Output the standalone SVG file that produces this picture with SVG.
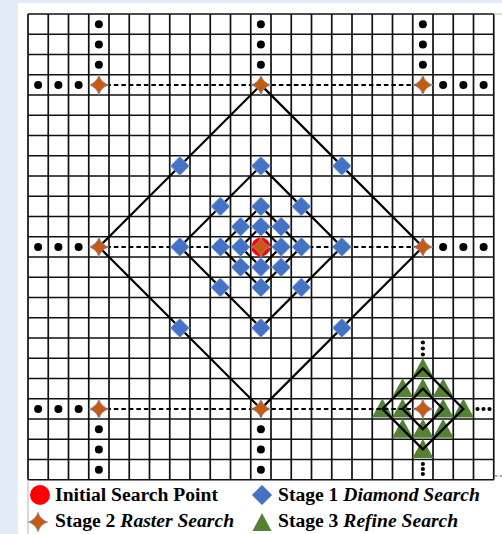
<svg xmlns="http://www.w3.org/2000/svg" xmlns:xlink="http://www.w3.org/1999/xlink" width="502" height="534" viewBox="0 0 502 534">
<style>
.grid{stroke:#111;stroke-width:1.7;fill:none}
.dash{stroke:#000;stroke-width:2;stroke-dasharray:4.5,3;fill:none}
.solid{stroke:#000;stroke-width:2.2;fill:none;stroke-linejoin:miter}
.s1{fill:#4472c4;stroke:#8fa9da;stroke-width:0.8}
.s2{fill:#c55a11;stroke:#7f9fd6;stroke-width:0.7}
.s3{fill:#548235}
.init{fill:#ff0000}
.dot{fill:#000}
.lbl{font-family:"Liberation Serif","Times New Roman",serif;font-size:19.6px;font-weight:bold;fill:#000}
.it{font-style:italic}
</style>
<defs>
<polygon id="dia" points="0,-9.5 9.5,0 0,9.5 -9.5,0"/>
<path id="star" d="M0,-10 Q2.3,-2.3 10,0 Q2.3,2.3 0,10 Q-2.3,2.3 -10,0 Q-2.3,-2.3 0,-10Z"/>
<polygon id="tri" points="0,-10.5 10.5,8.5 -10.5,8.5"/>
<circle id="dot" r="4"/>
<circle id="sdot" r="2.1"/>
</defs>
<rect x="0" y="0" width="502" height="534" fill="#e3ebf6"/>
<rect x="18" y="3" width="484" height="531" fill="#ffffff"/>
<g id="grid">
<path class="grid" d="M28,14V479.75M48.25,14V479.75M68.5,14V479.75M88.75,14V479.75M109,14V479.75M129.25,14V479.75M149.5,14V479.75M169.75,14V479.75M190,14V479.75M210.25,14V479.75M230.5,14V479.75M250.75,14V479.75M271,14V479.75M291.25,14V479.75M311.5,14V479.75M331.75,14V479.75M352,14V479.75M372.25,14V479.75M392.5,14V479.75M412.75,14V479.75M433,14V479.75M453.25,14V479.75M473.5,14V479.75M493.75,14V479.75M28,14H493.75M28,34.25H493.75M28,54.5H493.75M28,74.75H493.75M28,95H493.75M28,115.25H493.75M28,135.5H493.75M28,155.75H493.75M28,176H493.75M28,196.25H493.75M28,216.5H493.75M28,236.75H493.75M28,257H493.75M28,277.25H493.75M28,297.5H493.75M28,317.75H493.75M28,338H493.75M28,358.25H493.75M28,378.5H493.75M28,398.75H493.75M28,419H493.75M28,439.25H493.75M28,459.5H493.75M28,479.75H493.75"/>
<path d="M493.75,14H502M28,479.75V534" stroke="#b5b5b5" stroke-width="1" fill="none"/>
<path d="M495,476H502" stroke="#555" stroke-width="1" stroke-dasharray="2.5,2" fill="none"/>
</g>
<g id="stage3">
<g id="t-19-17"><use xlink:href="#tri" class="s3" x="422.875" y="368.375"/></g>
<g id="t-18-18"><use xlink:href="#tri" class="s3" x="402.625" y="388.625"/></g>
<g id="t-19-18"><use xlink:href="#tri" class="s3" x="422.875" y="388.625"/></g>
<g id="t-20-18"><use xlink:href="#tri" class="s3" x="443.125" y="388.625"/></g>
<g id="t-17-19"><use xlink:href="#tri" class="s3" x="382.375" y="408.875"/></g>
<g id="t-18-19"><use xlink:href="#tri" class="s3" x="402.625" y="408.875"/></g>
<g id="t-20-19"><use xlink:href="#tri" class="s3" x="443.125" y="408.875"/></g>
<g id="t-21-19"><use xlink:href="#tri" class="s3" x="463.375" y="408.875"/></g>
<g id="t-18-20"><use xlink:href="#tri" class="s3" x="402.625" y="429.125"/></g>
<g id="t-19-20"><use xlink:href="#tri" class="s3" x="422.875" y="429.125"/></g>
<g id="t-20-20"><use xlink:href="#tri" class="s3" x="443.125" y="429.125"/></g>
<g id="t-19-21"><use xlink:href="#tri" class="s3" x="422.875" y="449.375"/></g>
</g>
<g id="connectors">
<path class="dash" d="M98.875,84.875H422.875M98.875,246.875H422.875M98.875,408.875H422.875"/>
<polygon class="solid" points="260.875,84.875 422.875,246.875 260.875,408.875 98.875,246.875"/>
<polygon class="solid" points="260.875,165.875 341.875,246.875 260.875,327.875 179.875,246.875"/>
<polygon class="solid" points="260.875,206.375 301.375,246.875 260.875,287.375 220.375,246.875"/>
<polygon class="solid" points="260.875,226.625 281.125,246.875 260.875,267.125 240.625,246.875"/>
<polygon class="solid" points="422.875,368.375 463.375,408.875 422.875,449.375 382.375,408.875"/>
<polygon class="solid" points="422.875,388.625 443.125,408.875 422.875,429.125 402.625,408.875"/>
</g>
<g id="stage1">
<g id="d-7-7"><use xlink:href="#dia" class="s1" x="179.875" y="165.875"/></g>
<g id="d-11-7"><use xlink:href="#dia" class="s1" x="260.875" y="165.875"/></g>
<g id="d-15-7"><use xlink:href="#dia" class="s1" x="341.875" y="165.875"/></g>
<g id="d-7-11"><use xlink:href="#dia" class="s1" x="179.875" y="246.875"/></g>
<g id="d-15-11"><use xlink:href="#dia" class="s1" x="341.875" y="246.875"/></g>
<g id="d-7-15"><use xlink:href="#dia" class="s1" x="179.875" y="327.875"/></g>
<g id="d-11-15"><use xlink:href="#dia" class="s1" x="260.875" y="327.875"/></g>
<g id="d-15-15"><use xlink:href="#dia" class="s1" x="341.875" y="327.875"/></g>
<g id="d-9-9"><use xlink:href="#dia" class="s1" x="220.375" y="206.375"/></g>
<g id="d-11-9"><use xlink:href="#dia" class="s1" x="260.875" y="206.375"/></g>
<g id="d-13-9"><use xlink:href="#dia" class="s1" x="301.375" y="206.375"/></g>
<g id="d-9-11"><use xlink:href="#dia" class="s1" x="220.375" y="246.875"/></g>
<g id="d-13-11"><use xlink:href="#dia" class="s1" x="301.375" y="246.875"/></g>
<g id="d-9-13"><use xlink:href="#dia" class="s1" x="220.375" y="287.375"/></g>
<g id="d-11-13"><use xlink:href="#dia" class="s1" x="260.875" y="287.375"/></g>
<g id="d-13-13"><use xlink:href="#dia" class="s1" x="301.375" y="287.375"/></g>
<g id="d-10-10"><use xlink:href="#dia" class="s1" x="240.625" y="226.625"/></g>
<g id="d-11-10"><use xlink:href="#dia" class="s1" x="260.875" y="226.625"/></g>
<g id="d-12-10"><use xlink:href="#dia" class="s1" x="281.125" y="226.625"/></g>
<g id="d-10-11"><use xlink:href="#dia" class="s1" x="240.625" y="246.875"/></g>
<g id="d-12-11"><use xlink:href="#dia" class="s1" x="281.125" y="246.875"/></g>
<g id="d-10-12"><use xlink:href="#dia" class="s1" x="240.625" y="267.125"/></g>
<g id="d-11-12"><use xlink:href="#dia" class="s1" x="260.875" y="267.125"/></g>
<g id="d-12-12"><use xlink:href="#dia" class="s1" x="281.125" y="267.125"/></g>
</g>
<g id="initial"><circle class="init" cx="260.875" cy="246.875" r="9.5"/></g>
<g id="stage2">
<g id="s-3-3"><use xlink:href="#star" class="s2" x="98.875" y="84.875"/></g>
<g id="s-11-3"><use xlink:href="#star" class="s2" x="260.875" y="84.875"/></g>
<g id="s-19-3"><use xlink:href="#star" class="s2" x="422.875" y="84.875"/></g>
<g id="s-3-11"><use xlink:href="#star" class="s2" x="98.875" y="246.875"/></g>
<g id="s-11-11"><use xlink:href="#star" class="s2" x="260.875" y="246.875"/></g>
<g id="s-19-11"><use xlink:href="#star" class="s2" x="422.875" y="246.875"/></g>
<g id="s-3-19"><use xlink:href="#star" class="s2" x="98.875" y="408.875"/></g>
<g id="s-11-19"><use xlink:href="#star" class="s2" x="260.875" y="408.875"/></g>
<g id="s-19-19"><use xlink:href="#star" class="s2" x="422.875" y="408.875"/></g>
</g>
<g id="ellipses" class="dot">
<use xlink:href="#dot" x="98.875" y="24.125"/><use xlink:href="#dot" x="98.875" y="44.375"/><use xlink:href="#dot" x="98.875" y="64.625"/>
<use xlink:href="#dot" x="38.125" y="84.875"/><use xlink:href="#dot" x="58.375" y="84.875"/><use xlink:href="#dot" x="78.625" y="84.875"/>
<use xlink:href="#dot" x="260.875" y="24.125"/><use xlink:href="#dot" x="260.875" y="44.375"/><use xlink:href="#dot" x="260.875" y="64.625"/>
<use xlink:href="#dot" x="422.875" y="24.125"/><use xlink:href="#dot" x="422.875" y="44.375"/><use xlink:href="#dot" x="422.875" y="64.625"/>
<use xlink:href="#dot" x="443.125" y="84.875"/><use xlink:href="#dot" x="463.375" y="84.875"/><use xlink:href="#dot" x="483.625" y="84.875"/>
<use xlink:href="#dot" x="38.125" y="246.875"/><use xlink:href="#dot" x="58.375" y="246.875"/><use xlink:href="#dot" x="78.625" y="246.875"/>
<use xlink:href="#dot" x="443.125" y="246.875"/><use xlink:href="#dot" x="463.375" y="246.875"/><use xlink:href="#dot" x="483.625" y="246.875"/>
<use xlink:href="#dot" x="38.125" y="408.875"/><use xlink:href="#dot" x="58.375" y="408.875"/><use xlink:href="#dot" x="78.625" y="408.875"/>
<use xlink:href="#dot" x="98.875" y="429.125"/><use xlink:href="#dot" x="98.875" y="449.375"/><use xlink:href="#dot" x="98.875" y="469.625"/>
<use xlink:href="#dot" x="260.875" y="429.125"/><use xlink:href="#dot" x="260.875" y="449.375"/><use xlink:href="#dot" x="260.875" y="469.625"/>
<use xlink:href="#sdot" x="422.875" y="342.5"/><use xlink:href="#sdot" x="422.875" y="348.5"/><use xlink:href="#sdot" x="422.875" y="354.5"/>
<use xlink:href="#sdot" x="422.875" y="464"/><use xlink:href="#sdot" x="422.875" y="469"/><use xlink:href="#sdot" x="422.875" y="474"/>
<use xlink:href="#sdot" x="477.5" y="409"/><use xlink:href="#sdot" x="483.5" y="409"/><use xlink:href="#sdot" x="489.5" y="409"/>
</g>
<g id="legend">
<circle class="init" cx="40" cy="495" r="10"/>
<text class="lbl" x="55" y="501">Initial Search Point</text>
<polygon class="s1" points="262,485 272,495 262,505 252,495"/>
<text class="lbl" x="278" y="501">Stage 1 <tspan class="it">Diamond Search</tspan></text>
<path class="s2" d="M38,512 Q40.3,519.7 48,522 Q40.3,524.3 38,532 Q35.7,524.3 28,522 Q35.7,519.7 38,512Z"/>
<text class="lbl" x="55" y="527">Stage 2 <tspan class="it">Raster Search</tspan></text>
<polygon class="s3" points="262,513 271.5,531 252.5,531"/>
<text class="lbl" x="278" y="527">Stage 3 <tspan class="it">Refine Search</tspan></text>
</g>
</svg>
